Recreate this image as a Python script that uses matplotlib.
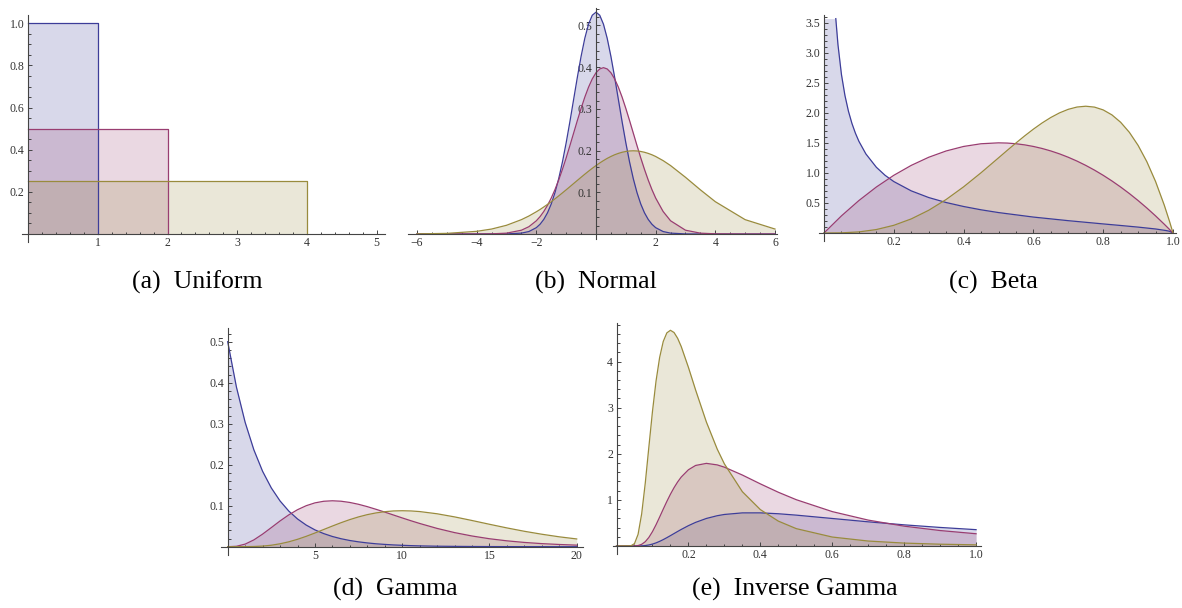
import numpy as np
import matplotlib.pyplot as plt
from matplotlib.ticker import FixedLocator

W, H = 1182, 608
plt.rcParams['font.family'] = ['Liberation Serif', 'DejaVu Serif']

colors = ['#3d3d99', '#993d71', '#998b3d']
axis_col = '#444444'

# (a) Uniform
unif_width = [1, 2, 4]
unif_height = [1.0, 0.5, 0.25]

# (b) Normal
norm_x = [-6, -5, -4, -3.5, -3, -2.5, -2.25, -2, -1.875, -1.75, -1.625, -1.5, -1.375, -1.25, -1.125, -1,
          -0.875, -0.75, -0.625, -0.5, -0.375, -0.25, -0.125, 0, 0.125, 0.25, 0.375, 0.5, 0.625, 0.75,
          0.875, 1, 1.125, 1.25, 1.375, 1.5, 1.625, 1.75, 1.875, 2, 2.25, 2.5, 3, 3.5, 4, 5, 6]
norm_blue = [0, 0, 0, 0, 0.0002, 0.0021, 0.0059, 0.0152, 0.0234, 0.0350, 0.0509, 0.0720, 0.0991, 0.1327, 0.1727, 0.2187,
             0.2693, 0.3226, 0.3759, 0.4259, 0.4694, 0.5032, 0.5246, 0.5319, 0.5246, 0.5032, 0.4694, 0.4259, 0.3759, 0.3226,
             0.2693, 0.2187, 0.1727, 0.1327, 0.0991, 0.0720, 0.0509, 0.0350, 0.0234, 0.0152, 0.0059, 0.0021, 0.0002, 0, 0, 0, 0]
norm_red = [0, 0, 0.0001, 0.0004, 0.0020, 0.0091, 0.0175, 0.0317, 0.0417, 0.0540, 0.0688, 0.0863, 0.1065, 0.1295, 0.1550, 0.1826,
            0.2119, 0.2420, 0.2721, 0.3011, 0.3282, 0.3521, 0.3719, 0.3867, 0.3958, 0.3989, 0.3958, 0.3867, 0.3719, 0.3521,
            0.3282, 0.3011, 0.2721, 0.2420, 0.2119, 0.1826, 0.1550, 0.1295, 0.1065, 0.0863, 0.0540, 0.0317, 0.0091, 0.0020, 0.0004, 0, 0]
norm_yellow = [0.0003, 0.0015, 0.0064, 0.0119, 0.0209, 0.0344, 0.0431, 0.0533, 0.0588, 0.0648, 0.0710, 0.0775, 0.0843, 0.0913, 0.0986, 0.1059,
               0.1134, 0.1210, 0.1285, 0.1360, 0.1434, 0.1506, 0.1575, 0.1641, 0.1703, 0.1760, 0.1813, 0.1859, 0.1900, 0.1933,
               0.1960, 0.1979, 0.1991, 0.1995, 0.1991, 0.1979, 0.1960, 0.1933, 0.1900, 0.1859, 0.1760, 0.1641, 0.1360, 0.1059, 0.0775, 0.0344, 0.0119]

# (c) Beta (blue is cut at the top of the plot range)
beta_blue_x = [0.0338, 0.04, 0.05, 0.06, 0.07, 0.08, 0.09, 0.1, 0.12, 0.15, 0.175, 0.2, 0.25, 0.3, 0.35, 0.4, 0.45, 0.5,
               0.6, 0.7, 0.8, 0.85, 0.9, 0.95, 0.98, 0.99, 1.0]
beta_blue = [3.567, 3.134, 2.637, 2.288, 2.027, 1.824, 1.661, 1.526, 1.316, 1.094, 0.960, 0.856, 0.701, 0.590, 0.507, 0.441,
             0.386, 0.340, 0.265, 0.205, 0.151, 0.125, 0.098, 0.067, 0.041, 0.029, 0.0]
beta_x = [0, 0.05, 0.1, 0.15, 0.2, 0.25, 0.3, 0.35, 0.4, 0.45, 0.5, 0.525, 0.55, 0.575, 0.6, 0.625, 0.65, 0.675,
          0.7, 0.725, 0.75, 0.775, 0.8, 0.825, 0.85, 0.875, 0.9, 0.925, 0.95, 0.975, 0.99, 1.0]
beta_red = [0, 0.285, 0.54, 0.765, 0.96, 1.125, 1.26, 1.365, 1.44, 1.485, 1.5, 1.4963, 1.485, 1.4663, 1.44, 1.4063, 1.365, 1.3163,
            1.26, 1.1963, 1.125, 1.0463, 0.96, 0.8663, 0.765, 0.6563, 0.54, 0.4163, 0.285, 0.1463, 0.0594, 0]
beta_yellow = [0, 0.0024, 0.018, 0.0574, 0.128, 0.2344, 0.378, 0.5574, 0.768, 1.0024, 1.25, 1.3747, 1.4974, 1.6159, 1.728, 1.8311,
               1.9224, 1.9991, 2.058, 2.0959, 2.1094, 2.0947, 2.048, 1.9653, 1.8424, 1.6748, 1.458, 1.1872, 0.8574, 0.4634, 0.1941, 0]

# (d) Gamma
gam_x = [0, 0.5, 1, 1.5, 2, 2.5, 3, 3.5, 4, 4.5, 5, 5.5, 6, 6.5, 7, 7.5, 8, 8.5, 9, 9.5, 10, 10.5, 11,
         12, 13, 14, 15, 16, 17, 18, 19, 20]
gam_blue = [0.5, 0.3894, 0.3033, 0.2362, 0.1839, 0.1433, 0.1116, 0.0869, 0.0677, 0.0527, 0.0410, 0.0320, 0.0249, 0.0194,
            0.0151, 0.0118, 0.0092, 0.0071, 0.0056, 0.0043, 0.0034, 0.0026, 0.0020,
            0.0012, 0.0008, 0.0005, 0.0003, 0.0002, 0.0001, 0.0001, 0, 0]
gam_red = [0, 0.0010, 0.0063, 0.0166, 0.0307, 0.0466, 0.0628, 0.0776, 0.0902, 0.1000, 0.1069, 0.1108, 0.1120, 0.1109,
           0.1079, 0.1034, 0.0977, 0.0912, 0.0844, 0.0773, 0.0702, 0.0633, 0.0567,
           0.0446, 0.0344, 0.0261, 0.0194, 0.0143, 0.0104, 0.0075, 0.0054, 0.0038]
gam_yellow = [0, 0, 0.0001, 0.0005, 0.0015, 0.0036, 0.0071, 0.0119, 0.0180, 0.0253, 0.0334, 0.0419, 0.0504, 0.0586,
              0.0661, 0.0727, 0.0782, 0.0824, 0.0854, 0.0872, 0.0877, 0.0872, 0.0857,
              0.0803, 0.0727, 0.0639, 0.0547, 0.0458, 0.0376, 0.0304, 0.0241, 0.0189]

# (e) Inverse Gamma
ig_x = [0, 0.04, 0.05, 0.06, 0.07, 0.08, 0.09, 0.1, 0.11, 0.12, 0.13, 0.14, 0.15, 0.16, 0.17, 0.18, 0.2, 0.22,
        0.25, 0.28, 0.3, 0.35, 0.4, 0.45, 0.5, 0.6, 0.7, 0.8, 0.9, 1.0]
ig_blue = [0, 0, 0.0001, 0.0008, 0.0034, 0.0099, 0.0223, 0.0415, 0.0678, 0.1005, 0.1386, 0.1804, 0.2246, 0.2698, 0.3149,
           0.3589, 0.4410, 0.5125, 0.5974, 0.6568, 0.6840, 0.7184, 0.7188, 0.6996, 0.6694, 0.5969, 0.5243, 0.4589, 0.4024, 0.3543]
ig_red = [0, 0.0001, 0.0014, 0.0097, 0.0364, 0.0932, 0.1855, 0.3111, 0.4621, 0.6284, 0.7999, 0.9665, 1.1230, 1.2647, 1.3891,
          1.4954, 1.6536, 1.7472, 1.7923, 1.7594, 1.7101, 1.5395, 1.3478, 1.1660, 1.0041, 0.7461, 0.5617, 0.4302, 0.3353, 0.2657]
ig_yellow = [0, 0.0037, 0.0516, 0.2528, 0.6972, 1.3647, 2.1466, 2.9167, 3.5805, 4.0913, 4.437, 4.6229, 4.679, 4.6313, 4.5062,
             4.3268, 3.8756, 3.3842, 2.6885, 2.1037, 1.7813, 1.1781, 0.7897, 0.5398, 0.3765, 0.1943, 0.1075, 0.0630, 0.0388, 0.0249]

captions = ['(a)  Uniform', '(b)  Normal', '(c)  Beta', '(d)  Gamma', '(e)  Inverse Gamma']

fig = plt.figure(figsize=(W / 100, H / 100), dpi=100)


def make_axes(ox, oy, sx, sy, xlim, ylim):
    # origin pixel position + pixels per unit -> axes rectangle
    left = ox + xlim[0] * sx
    right = ox + xlim[1] * sx
    top = oy - ylim[1] * sy
    bottom = oy - ylim[0] * sy
    ax = fig.add_axes([left / W, 1 - bottom / H, (right - left) / W, (bottom - top) / H])
    ax.set_xlim(xlim)
    ax.set_ylim(ylim)
    ax.patch.set_alpha(0)
    for s in ['top', 'right']:
        ax.spines[s].set_visible(False)
    for s in ['left', 'bottom']:
        ax.spines[s].set_position(('data', 0))
        ax.spines[s].set_color(axis_col)
        ax.spines[s].set_linewidth(0.8)
    return ax


def set_ticks(ax, xt, xl, xm, yt, yl, ym):
    ax.xaxis.set_major_locator(FixedLocator(xt))
    ax.set_xticklabels(xl)
    ax.xaxis.set_minor_locator(FixedLocator(xm))
    ax.yaxis.set_major_locator(FixedLocator(yt))
    ax.set_yticklabels(yl)
    ax.yaxis.set_minor_locator(FixedLocator(ym))
    ax.tick_params(which='both', direction='in', color=axis_col, width=0.7,
                   labelsize=8.5, labelcolor='#333333')
    ax.tick_params(which='major', length=3.2, pad=2.5)
    ax.tick_params(which='minor', length=1.8)


def curves(ax, xs, ys):
    for x, y, c in zip(xs, ys, colors):
        ax.fill_between(x, 0, y, color=c, alpha=0.2, linewidth=0)
    for x, y, c in zip(xs, ys, colors):
        ax.plot(x, y, color=c, lw=0.9)


def steps(a, b, s):
    return [round(v, 4) for v in np.arange(a, b + s / 2, s)]


# (a)
ax = make_axes(28, 234, 69.75, 210.7, (-0.09, 5.12), (-0.036, 1.038))
for w, h, c in zip(unif_width, unif_height, colors):
    ax.fill_between([0, w], 0, h, color=c, alpha=0.2, linewidth=0)
for w, h, c in zip(unif_width, unif_height, colors):
    ax.plot([0, w, w], [h, h, 0], color=c, lw=0.9)
set_ticks(ax, [1, 2, 3, 4, 5], ['1', '2', '3', '4', '5'], steps(0.2, 5.1, 0.2),
          [0.2, 0.4, 0.6, 0.8, 1.0], ['0.2', '0.4', '0.6', '0.8', '1.0'], steps(0.05, 1.0, 0.05))

# (b)
ax = make_axes(596, 234, 29.83, 417, (-6.3, 6.07), (-0.012, 0.542))
curves(ax, [norm_x] * 3, [norm_blue, norm_red, norm_yellow])
set_ticks(ax, [-6, -4, -2, 2, 4, 6], ['\u22126', '\u22124', '\u22122', '2', '4', '6'],
          [v for v in steps(-6, 6, 0.5) if v != 0],
          [0.1, 0.2, 0.3, 0.4, 0.5], ['0.1', '0.2', '0.3', '0.4', '0.5'], steps(0.02, 0.54, 0.02))

# (c)
ax = make_axes(824, 233, 349, 60.1, (-0.014, 1.01), (-0.13, 3.63))
bx = [0] + beta_blue_x
by = [beta_blue[0]] + beta_blue
ax.fill_between(bx, 0, by, color=colors[0], alpha=0.2, linewidth=0)
ax.fill_between(beta_x, 0, beta_red, color=colors[1], alpha=0.2, linewidth=0)
ax.fill_between(beta_x, 0, beta_yellow, color=colors[2], alpha=0.2, linewidth=0)
ax.plot(beta_blue_x, beta_blue, color=colors[0], lw=0.9)
ax.plot(beta_x, beta_red, color=colors[1], lw=0.9)
ax.plot(beta_x, beta_yellow, color=colors[2], lw=0.9)
set_ticks(ax, [0.2, 0.4, 0.6, 0.8, 1.0], ['0.2', '0.4', '0.6', '0.8', '1.0'], steps(0.05, 1.0, 0.05),
          [0.5, 1.0, 1.5, 2.0, 2.5, 3.0, 3.5], ['0.5', '1.0', '1.5', '2.0', '2.5', '3.0', '3.5'], steps(0.1, 3.6, 0.1))

# (d)
ax = make_axes(227.7, 546.7, 17.45, 410, (-0.4, 20.36), (-0.02, 0.533))
curves(ax, [gam_x] * 3, [gam_blue, gam_red, gam_yellow])
set_ticks(ax, [5, 10, 15, 20], ['5', '10', '15', '20'], steps(1, 20, 1),
          [0.1, 0.2, 0.3, 0.4, 0.5], ['0.1', '0.2', '0.3', '0.4', '0.5'], steps(0.02, 0.52, 0.02))

# (e)
ax = make_axes(616.5, 546, 359.6, 46.1, (-0.01, 1.014), (-0.17, 4.84))
curves(ax, [ig_x] * 3, [ig_blue, ig_red, ig_yellow])
set_ticks(ax, [0.2, 0.4, 0.6, 0.8, 1.0], ['0.2', '0.4', '0.6', '0.8', '1.0'], steps(0.05, 1.0, 0.05),
          [1, 2, 3, 4], ['1', '2', '3', '4'], steps(0.2, 4.8, 0.2))

# captions
cap_pos = [(197, 282), (596, 282), (993, 282), (395, 589), (795, 589)]
for (cx, cy), txt in zip(cap_pos, captions):
    fig.text(cx / W, 1 - cy / H, txt, ha='center', va='center', fontsize=18.5, color='black')

fig.savefig('out.png', dpi=100)
